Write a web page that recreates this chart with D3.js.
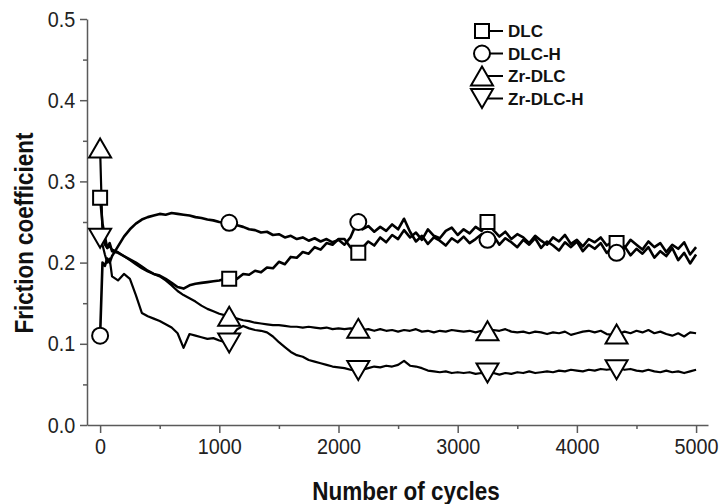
<!DOCTYPE html>
<html>
<head>
<meta charset="utf-8">
<script src="https://cdn.jsdelivr.net/npm/d3@7"></script>
<style>
  body { margin: 0; background: #fff; }
  text { font-family: "Liberation Sans", Arial, sans-serif; }
</style>
</head>
<body>
<div id="chart"></div>
<script>
var svgWidth = 721;
var svgHeight = 504;

// sampling positions (cycles)
var cycles = [0, 20, 40, 60, 80].concat(d3.range(100, 5001, 50));

var seriesNames = ["DLC", "DLC-H", "Zr-DLC", "Zr-DLC-H"];

var dlc = [0.280, 0.248, 0.232, 0.218, 0.224,
  0.214, 0.212, 0.208, 0.204, 0.200, 0.195, 0.190, 0.186, 0.184, 0.180,
  0.175, 0.170, 0.168, 0.172, 0.174, 0.175, 0.176, 0.177, 0.178, 0.180,
  0.182, 0.180, 0.186, 0.185, 0.190, 0.188, 0.194, 0.193, 0.201, 0.198,
  0.207, 0.206, 0.213, 0.211, 0.219, 0.216, 0.224, 0.222, 0.229,
  0.229, 0.219, 0.213, 0.218, 0.226, 0.221, 0.231, 0.225, 0.234, 0.229,
  0.240, 0.231, 0.237, 0.228, 0.241, 0.233, 0.230, 0.239, 0.243, 0.234,
  0.241, 0.236, 0.244, 0.239, 0.249, 0.240, 0.232, 0.238, 0.229, 0.235,
  0.231, 0.224, 0.233, 0.227, 0.222, 0.231, 0.226, 0.234, 0.223, 0.228,
  0.220, 0.229, 0.225, 0.231, 0.221, 0.226, 0.227, 0.218, 0.228, 0.222,
  0.216, 0.226, 0.219, 0.224, 0.213, 0.222, 0.217, 0.225, 0.210, 0.219];

var dlcH = [0.110, 0.200, 0.196, 0.205, 0.200,
  0.208, 0.220, 0.232, 0.241, 0.248, 0.253, 0.256, 0.258, 0.260, 0.259,
  0.261, 0.260, 0.259, 0.258, 0.256, 0.255, 0.253, 0.252, 0.250, 0.249,
  0.248, 0.246, 0.244, 0.241, 0.240, 0.237, 0.238, 0.234, 0.235, 0.231,
  0.233, 0.229, 0.231, 0.227, 0.230, 0.226, 0.229, 0.225, 0.228,
  0.222, 0.231, 0.248, 0.241, 0.245, 0.238, 0.244, 0.239, 0.247, 0.241,
  0.254, 0.238, 0.226, 0.233, 0.223, 0.231, 0.227, 0.221, 0.230, 0.225,
  0.232, 0.224, 0.229, 0.235, 0.228, 0.233, 0.222, 0.230, 0.225, 0.219,
  0.228, 0.222, 0.230, 0.218, 0.226, 0.221, 0.215, 0.225, 0.219, 0.226,
  0.214, 0.222, 0.217, 0.224, 0.212, 0.219, 0.212, 0.220, 0.209, 0.217,
  0.211, 0.219, 0.206, 0.214, 0.208, 0.218, 0.203, 0.212, 0.199, 0.210];

var zrDlc = [0.340, 0.235, 0.222, 0.218, 0.220,
  0.216, 0.213, 0.208, 0.203, 0.198, 0.193, 0.189, 0.186, 0.183, 0.178,
  0.172, 0.165, 0.160, 0.156, 0.152, 0.147, 0.143, 0.140, 0.137, 0.135,
  0.133, 0.131, 0.129, 0.128, 0.126, 0.125, 0.124, 0.123, 0.123, 0.122,
  0.121, 0.121, 0.120, 0.121, 0.120, 0.119, 0.120, 0.118, 0.119,
  0.118, 0.119, 0.118, 0.117, 0.118, 0.116, 0.118, 0.116, 0.117, 0.115,
  0.117, 0.116, 0.118, 0.115, 0.116, 0.114, 0.116, 0.115, 0.117, 0.116,
  0.115, 0.116, 0.114, 0.116, 0.115, 0.117, 0.116, 0.118, 0.115, 0.114,
  0.115, 0.113, 0.115, 0.114, 0.112, 0.114, 0.113, 0.115, 0.111, 0.113,
  0.115, 0.116, 0.114, 0.116, 0.112, 0.111, 0.112, 0.115, 0.113, 0.116,
  0.114, 0.117, 0.113, 0.115, 0.112, 0.110, 0.113, 0.109, 0.114, 0.113];

var zrDlcH = [0.230, 0.222, 0.210, 0.200, 0.205,
  0.183, 0.178, 0.186, 0.180, 0.160, 0.138, 0.134, 0.131, 0.128, 0.124,
  0.120, 0.113, 0.095, 0.112, 0.110, 0.108, 0.106, 0.107, 0.104, 0.102,
  0.108, 0.118, 0.122, 0.119, 0.117, 0.116, 0.114, 0.109, 0.102, 0.096,
  0.090, 0.086, 0.084, 0.080, 0.078, 0.076, 0.074, 0.072, 0.071,
  0.070, 0.068, 0.067, 0.068, 0.070, 0.072, 0.071, 0.073, 0.072, 0.074,
  0.079, 0.073, 0.072, 0.070, 0.067, 0.066, 0.065, 0.066, 0.064, 0.065,
  0.064, 0.065, 0.063, 0.064, 0.063, 0.064, 0.062, 0.064, 0.063, 0.065,
  0.064, 0.066, 0.064, 0.065, 0.066, 0.065, 0.067, 0.066, 0.068, 0.067,
  0.066, 0.068, 0.067, 0.069, 0.068, 0.069, 0.070, 0.068, 0.069, 0.067,
  0.066, 0.068, 0.066, 0.065, 0.067, 0.065, 0.066, 0.064, 0.066, 0.068];

// symbols every ~1083 cycles
var markerCycles = [0, 1083, 2166, 3250, 4333];
var dlcMarks    = [0.280, 0.180, 0.212, 0.250, 0.224];
var dlcHMarks   = [0.110, 0.249, 0.250, 0.228, 0.212];
var zrDlcMarks  = [0.341, 0.134, 0.119, 0.116, 0.112];
var zrDlcHMarks = [0.230, 0.101, 0.067, 0.064, 0.068];

var xTicks = [0, 1000, 2000, 3000, 4000, 5000];
var xMinor = [500, 1500, 2500, 3500, 4500];
var yTicks = [0, 0.1, 0.2, 0.3, 0.4, 0.5];
var yMinor = [0.05, 0.15, 0.25, 0.35, 0.45];

var series = [
  { name: seriesNames[0], values: dlc,    marks: dlcMarks,    shape: "square", width: 2.6 },
  { name: seriesNames[1], values: dlcH,   marks: dlcHMarks,   shape: "circle", width: 2.6 },
  { name: seriesNames[2], values: zrDlc,  marks: zrDlcMarks,  shape: "up",     width: 2.2 },
  { name: seriesNames[3], values: zrDlcH, marks: zrDlcHMarks, shape: "down",   width: 2.2 }
];

var svg = d3.select("#chart")
  .append("svg")
  .attr("width", svgWidth)
  .attr("height", svgHeight);

var x = d3.scaleLinear().domain([-110, 5100]).range([87, 708]);
var y = d3.scaleLinear().domain([0, 0.5]).range([425, 19]);

var axisColor = "#5a5a5a";

function styleAxis(g) {
  g.select(".domain").attr("stroke", axisColor).attr("stroke-width", 1.5);
  g.selectAll(".tick line").attr("stroke", axisColor).attr("stroke-width", 1.5);
  g.selectAll(".tick text")
    .attr("fill", "#222")
    .style("font-size", "22px")
    .attr("transform", "scale(0.9,1)");
}

// minor ticks first
svg.append("g")
  .attr("transform", "translate(0,425)")
  .call(d3.axisBottom(x).tickValues(xMinor).tickSize(4).tickFormat(""))
  .call(g => g.select(".domain").remove())
  .call(g => g.selectAll("line").attr("stroke", axisColor).attr("stroke-width", 1.5));
svg.append("g")
  .attr("transform", "translate(87,0)")
  .call(d3.axisLeft(y).tickValues(yMinor).tickSize(4).tickFormat(""))
  .call(g => g.select(".domain").remove())
  .call(g => g.selectAll("line").attr("stroke", axisColor).attr("stroke-width", 1.5));

var xAxis = svg.append("g")
  .attr("transform", "translate(0,425)")
  .call(d3.axisBottom(x).tickValues(xTicks).tickSize(8).tickSizeOuter(0).tickPadding(5)
    .tickFormat(d3.format("d")))
  .call(styleAxis);

var yAxis = svg.append("g")
  .attr("transform", "translate(87,0)")
  .call(d3.axisLeft(y).tickValues(yTicks).tickSize(7).tickSizeOuter(0).tickPadding(6)
    .tickFormat(d3.format(".1f")))
  .call(styleAxis);

// axis titles
svg.append("text")
  .attr("transform", "translate(406,500) scale(0.9,1)")
  .attr("text-anchor", "middle")
  .style("font-size", "25px")
  .style("font-weight", "bold")
  .attr("fill", "#111")
  .text("Number of cycles");

svg.append("text")
  .attr("transform", "translate(33,233) rotate(-90) scale(0.9,1)")
  .attr("text-anchor", "middle")
  .style("font-size", "25px")
  .style("font-weight", "bold")
  .attr("fill", "#111")
  .text("Friction coefficient");

// lines
var line = d3.line()
  .x((d, i) => x(cycles[i]))
  .y(d => y(d));

svg.append("g").selectAll("path")
  .data(series)
  .enter()
  .append("path")
  .attr("d", d => line(d.values))
  .attr("fill", "none")
  .attr("stroke", "#000")
  .attr("stroke-width", d => d.width)
  .attr("stroke-linejoin", "round");

// marker shapes centred on (0,0)
function shapePath(shape) {
  var p = d3.path();
  if (shape === "square") {
    p.rect(-7, -7, 14, 14);
  } else if (shape === "circle") {
    p.arc(0, 0, 8, 0, 2 * Math.PI);
  } else if (shape === "up") {
    p.moveTo(0, -9.5); p.lineTo(11, 9.5); p.lineTo(-11, 9.5); p.closePath();
  } else {
    p.moveTo(0, 9.5); p.lineTo(11, -9.5); p.lineTo(-11, -9.5); p.closePath();
  }
  return p.toString();
}

series.forEach(function(s) {
  svg.append("g").selectAll("path")
    .data(s.marks)
    .enter()
    .append("path")
    .attr("transform", (d, i) => `translate(${x(markerCycles[i])},${y(d)})`)
    .attr("d", shapePath(s.shape))
    .attr("fill", "#fff")
    .attr("stroke", "#000")
    .attr("stroke-width", 2);
});

// legend
var legendRows = [31, 53.5, 76, 98.5];
var legend = svg.append("g");
series.forEach(function(s, i) {
  var row = legend.append("g").attr("transform", `translate(0,${legendRows[i]})`);
  row.append("line")
    .attr("x1", 482).attr("x2", 503)
    .attr("stroke", "#000").attr("stroke-width", 2);
  row.append("path")
    .attr("transform", "translate(482,0)")
    .attr("d", shapePath(s.shape))
    .attr("fill", "#fff")
    .attr("stroke", "#000")
    .attr("stroke-width", 2);
  row.append("text")
    .attr("x", 508)
    .attr("dy", "0.36em")
    .style("font-size", "17px")
    .style("font-weight", "bold")
    .attr("fill", "#111")
    .text(s.name);
});
</script>
</body>
</html>
